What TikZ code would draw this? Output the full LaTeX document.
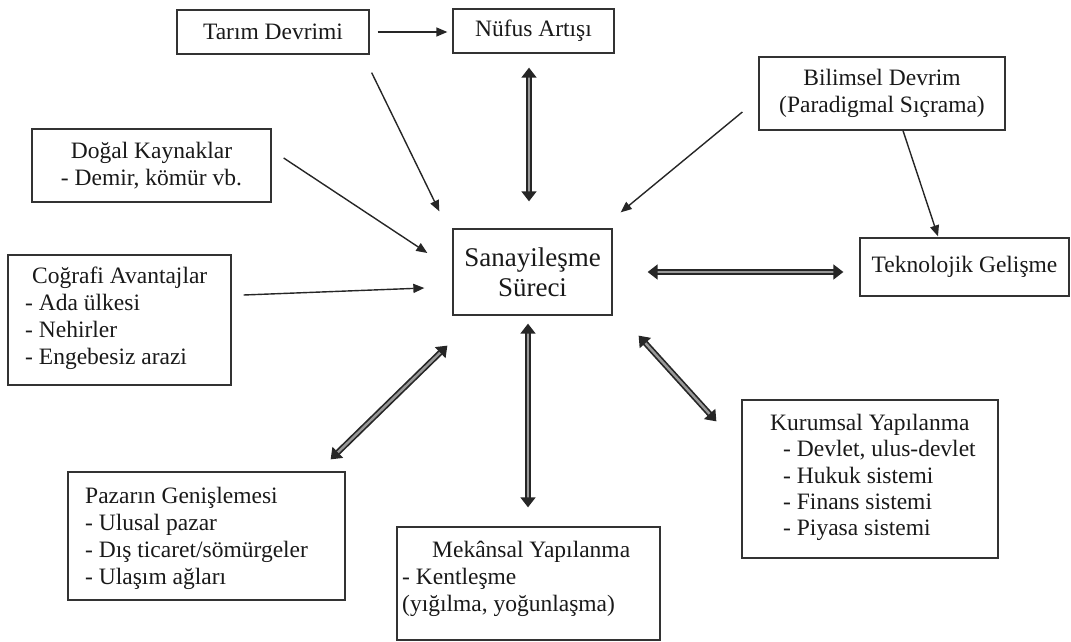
\documentclass[tikz,border=0pt]{standalone}
\usepackage{fontspec}
\setmainfont{Liberation Serif}
\usetikzlibrary{arrows.meta,calc}
\begin{document}
\begin{tikzpicture}[x=1pt,y=-1pt,
 box/.style={draw=black!80, line width=1.3pt, inner sep=0pt},
 txt/.style={font=\fontsize{23.5}{27}\selectfont, text=black!90},
 big/.style={font=\fontsize{27}{30}\selectfont, text=black!90},
 para/.style={txt, align=left, anchor=north west, inner sep=0pt},
 one/.style={-{Triangle[length=11pt,width=9pt]}, line width=1.4pt, draw=black!85},
 two/.style={{Triangle[length=10pt,width=15pt]}-{Triangle[length=10pt,width=15pt]}, double=black!40, double distance=2.4pt, line width=1.7pt, draw=black!85}
]
\useasboundingbox (0,0) rectangle (1071,642);

% boxes
\node[box, txt, minimum width=192pt, minimum height=44pt] (tarim) at (273,32) {Tarım Devrimi};
\node[box, txt, minimum width=161pt, minimum height=44pt] (nufus) at (533.5,31) {Nüfus Artışı};
\node[box, txt, align=center, minimum width=239pt, minimum height=73pt] (dogal) at (151.5,165.5) {Doğal Kaynaklar\\- Demir, kömür vb.};
\node[box, minimum width=223pt, minimum height=130pt] (cografi) at (119.5,320) {};
\node[box, txt, align=center, minimum width=246pt, minimum height=73pt] (bilimsel) at (882,93.5) {Bilimsel Devrim\\(Paradigmal Sıçrama)};
\node[box, txt, minimum width=209pt, minimum height=58pt] (tekno) at (964.5,267) {Teknolojik Gelişme};
\node[box, big, align=center, minimum width=159pt, minimum height=86pt] (sanayi) at (532.5,272) {Sanayileşme\\Süreci};
\node[box, minimum width=256pt, minimum height=158pt] (kurumsal) at (870,479) {};
\node[box, minimum width=277pt, minimum height=128pt] (pazar) at (206.5,536) {};
\node[box, minimum width=263pt, minimum height=113pt] (mekan) at (528.5,583.5) {};

% texts of the multi-line boxes
\node[para] (cografiT) at (25,267) {\rule{0pt}{16pt}\hspace*{7pt}Coğrafi Avantajlar\\- Ada ülkesi\\- Nehirler\\- Engebesiz arazi};
\node[para, font=\fontsize{23.5}{26.3}\selectfont] (kurumsalT) at (770,414) {\rule{0pt}{16pt}Kurumsal Yapılanma\\\hspace*{13pt}- Devlet, ulus-devlet\\\hspace*{13pt}- Hukuk sistemi\\\hspace*{13pt}- Finans sistemi\\\hspace*{13pt}- Piyasa sistemi};
\node[para] (pazarT) at (85,487) {\rule{0pt}{16pt}Pazarın Genişlemesi\\- Ulusal pazar\\- Dış ticaret/sömürgeler\\- Ulaşım ağları};
\node[para] (mekanT) at (402,541) {\rule{0pt}{16pt}\hspace*{30pt}Mekânsal Yapılanma\\- Kentleşme\\(yığılma, yoğunlaşma)};

% single arrows
\draw[one] ([shift={(8,0)}]tarim.east) -- ([shift={(-5,1)}]nufus.west);
\draw[one] ([shift={(2,18)}]tarim.south east) -- ([shift={(-13,-17)}]sanayi.north west);
\draw[one] ([shift={(12,-7.5)}]dogal.east) -- ([shift={(-25,-19)}]sanayi.west);
\draw[one] ([shift={(12,-25)}]cografi.east) -- ([shift={(-28,16)}]sanayi.west);
\draw[one] ([shift={(-16,18.5)}]bilimsel.west) -- ([shift={(8,-16)}]sanayi.north east);
\draw[one] ([shift={(21,0)}]bilimsel.south) -- ([shift={(-26.5,-1)}]tekno.north);

% double arrows
\draw[two] ([shift={(-4.5,14)}]nufus.south) -- ([shift={(-3.5,-27)}]sanayi.north);
\draw[two] ([shift={(35,0)}]sanayi.east) -- ([shift={(-16,5)}]tekno.west);
\draw[two] ([shift={(-5,30)}]sanayi.south west) -- ([shift={(-15,-12)}]pazar.north east);
\draw[two] ([shift={(-4.5,8)}]sanayi.south) -- ([shift={(-0.5,-19)}]mekan.north);
\draw[two] ([shift={(26,20)}]sanayi.south east) -- ([shift={(-25,22)}]kurumsal.north west);
\end{tikzpicture}
\end{document}
